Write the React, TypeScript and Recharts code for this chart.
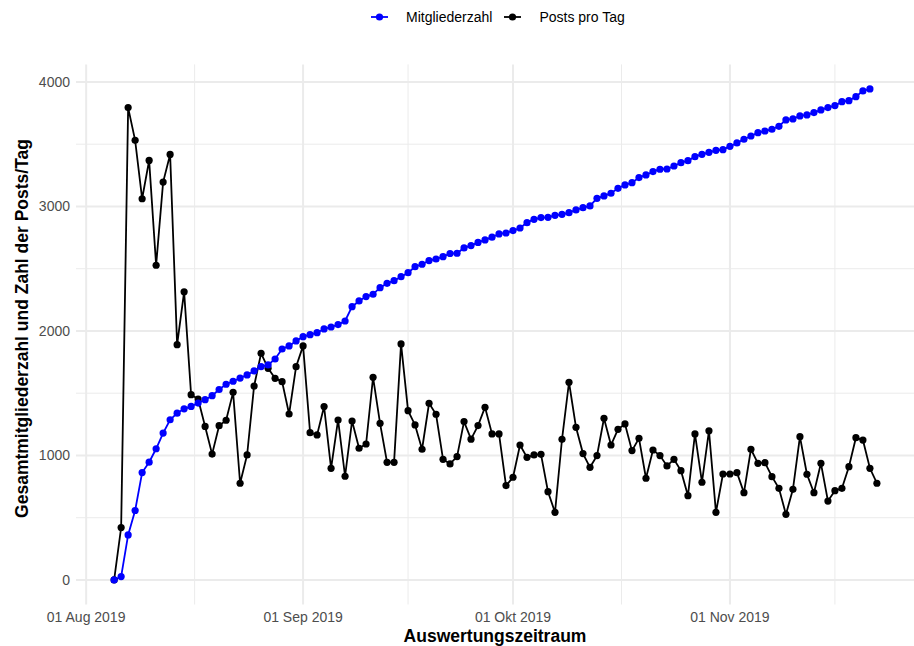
import { LineChart, Line, XAxis, YAxis, CartesianGrid } from "recharts";

// days counted from 01 Aug 2019; first observation is 05 Aug 2019
const firstDay = 4;
const monthTicks = [0, 31, 61, 92];
const monthLabels = ["01 Aug 2019", "01 Sep 2019", "01 Okt 2019", "01 Nov 2019"];
const midMonthTicks = [15.5, 46, 76.5, 107];
const valueTicks = [0, 1000, 2000, 3000, 4000];
const halfValueTicks = [500, 1500, 2500, 3500];

const members = [
  0, 27, 362, 558, 863, 946, 1054, 1180, 1287, 1340, 1375, 1394, 1421, 1448, 1480, 1530,
  1572, 1596, 1622, 1647, 1679, 1714, 1727, 1775, 1855, 1880, 1920, 1954, 1970, 1986, 2016,
  2032, 2051, 2080, 2195, 2241, 2276, 2295, 2348, 2383, 2404, 2436, 2468, 2516, 2536, 2565,
  2578, 2597, 2622, 2624, 2667, 2686, 2711, 2731, 2753, 2779, 2787, 2806, 2827, 2870, 2897,
  2911, 2913, 2929, 2937, 2950, 2972, 2990, 3004, 3065, 3085, 3106, 3146, 3173, 3191, 3232,
  3253, 3280, 3299, 3301, 3325, 3352, 3368, 3400, 3419, 3435, 3451, 3456, 3483, 3510, 3540,
  3566, 3593, 3606, 3620, 3644, 3695, 3703, 3727, 3735, 3754, 3775, 3794, 3810, 3842, 3850,
  3882, 3928, 3944,
];

const posts = [
  0, 421, 3794, 3531, 3062, 3370, 2528, 3196, 3418, 1890, 2314, 1488, 1453, 1233, 1011, 1239,
  1283, 1507, 777, 1004, 1558, 1821, 1700, 1620, 1593, 1333, 1713, 1880, 1183, 1165, 1393,
  897, 1285, 833, 1277, 1058, 1092, 1628, 1258, 945, 945, 1896, 1360, 1245, 1050, 1419, 1331,
  969, 932, 991, 1272, 1131, 1240, 1387, 1173, 1173, 758, 825, 1084, 985, 1004, 1009, 709,
  543, 1130, 1588, 1226, 1015, 905, 999, 1299, 1084, 1210, 1253, 1039, 1138, 817, 1044, 999,
  916, 969, 878, 677, 1173, 785, 1198, 543, 851, 851, 862, 701, 1050, 937, 942, 830, 736,
  527, 728, 1151, 849, 701, 937, 634, 717, 736, 910, 1143, 1124, 897, 777,
];

const data = posts.map((p, i) => ({
  day: firstDay + i,
  posts: p,
  members: members[i],
}));

const tickStyle = { fontSize: 14, fill: "#4D4D4D", fontFamily: "Liberation Sans, Arial, sans-serif" };

function LegendKey({ color }: { color: string }) {
  return (
    <svg width={17} height={10} style={{ display: "block" }}>
      <line x1={0} y1={5} x2={17} y2={5} stroke={color} strokeWidth={1.8} />
      <circle cx={8.5} cy={5} r={3.6} fill={color} />
    </svg>
  );
}

export default function App() {
  return (
    <div style={{ position: "absolute", left: 0, top: 0, width: 914, height: 646, background: "#fff" }}>
      <div
        style={{
          position: "absolute",
          left: 371,
          top: 7,
          height: 20,
          display: "flex",
          alignItems: "center",
          fontFamily: "Liberation Sans, Arial, sans-serif",
          fontSize: 14,
          color: "#000",
        }}
      >
        <LegendKey color="#0000FF" />
        <span style={{ marginLeft: 18, marginRight: 12 }}>Mitgliederzahl</span>
        <LegendKey color="#000000" />
        <span style={{ marginLeft: 18 }}>Posts pro Tag</span>
      </div>
      <LineChart
        width={914}
        height={646}
        data={data}
        margin={{ top: 64.4, right: 0, bottom: 0, left: 0 }}
      >
        <CartesianGrid
          stroke="#EBEBEB"
          strokeWidth={1}
          horizontalValues={halfValueTicks}
          verticalValues={midMonthTicks}
        />
        <CartesianGrid
          stroke="#EBEBEB"
          strokeWidth={2}
          horizontalValues={valueTicks}
          verticalValues={monthTicks}
        />
        <XAxis
          type="number"
          dataKey="day"
          domain={[-1.45, 118.3]}
          allowDataOverflow
          ticks={monthTicks}
          tickFormatter={(v: number) => monthLabels[monthTicks.indexOf(v)]}
          tick={tickStyle}
          axisLine={false}
          tickLine={false}
          tickSize={5}
          tickMargin={2.5}
          height={41.5}
          interval={0}
          label={({ viewBox }: any) => (
            <text
              x={viewBox.x + viewBox.width / 2}
              y={642}
              textAnchor="middle"
              fontFamily="Liberation Sans, Arial, sans-serif"
              fontWeight="bold"
              fontSize={17.5}
              fill="#000"
            >
              Auswertungszeitraum
            </text>
          )}
        />
        <YAxis
          type="number"
          domain={[-197, 4141]}
          allowDataOverflow
          ticks={valueTicks}
          tick={tickStyle}
          axisLine={false}
          tickLine={false}
          tickSize={4}
          tickMargin={2}
          width={76}
          interval={0}
          label={({ viewBox }: any) => {
            const cy = viewBox.y + viewBox.height / 2 - 6;
            return (
              <text
                x={28}
                y={cy}
                transform={`rotate(-90, 28, ${cy})`}
                textAnchor="middle"
                fontFamily="Liberation Sans, Arial, sans-serif"
                fontWeight="bold"
                fontSize={17.5}
                fill="#000"
              >
                Gesamtmitgliederzahl und Zahl der Posts/Tag
              </text>
            );
          }}
        />
        <Line
          type="linear"
          dataKey="posts"
          stroke="#000000"
          strokeWidth={1.8}
          dot={{ r: 3.6, fill: "#000000", stroke: "#000000", strokeWidth: 0 }}
          activeDot={false}
          isAnimationActive={false}
        />
        <Line
          type="linear"
          dataKey="members"
          stroke="#0000FF"
          strokeWidth={1.8}
          dot={{ r: 3.6, fill: "#0000FF", stroke: "#0000FF", strokeWidth: 0 }}
          activeDot={false}
          isAnimationActive={false}
        />
      </LineChart>
    </div>
  );
}
